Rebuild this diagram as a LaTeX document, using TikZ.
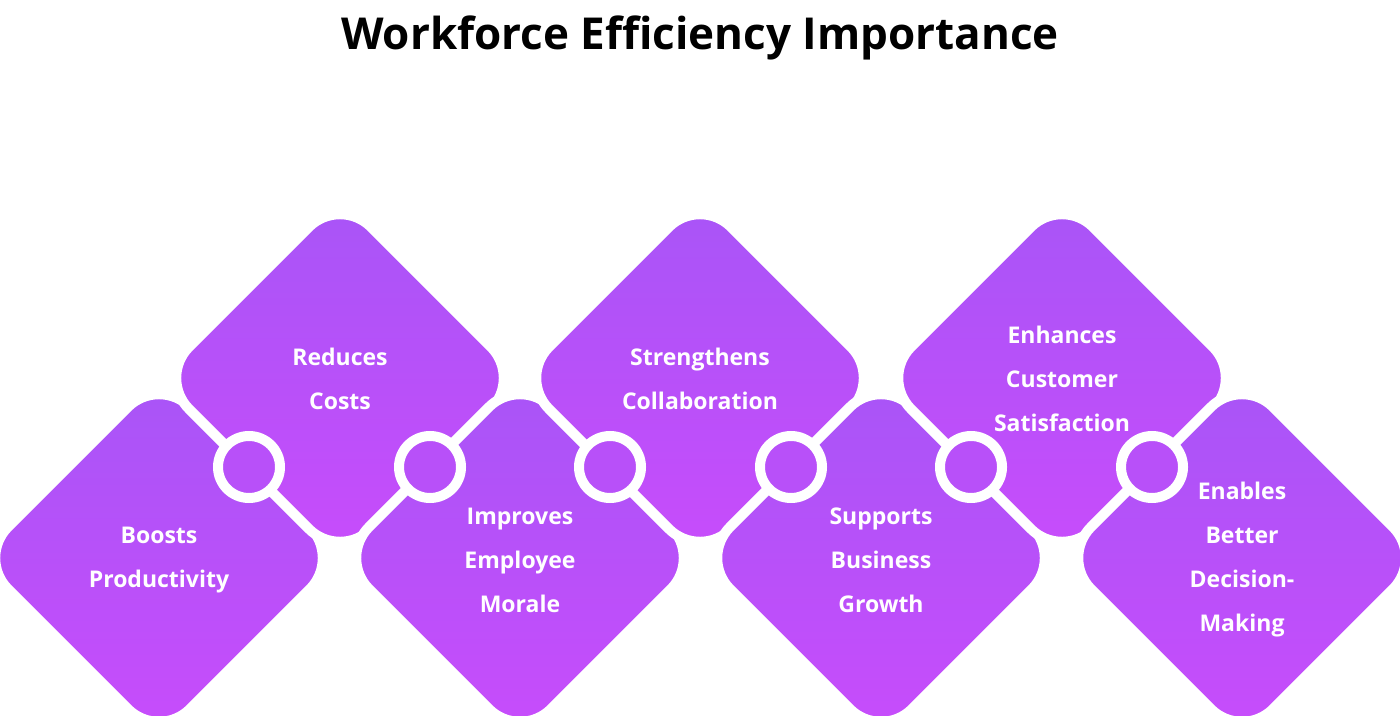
\documentclass[tikz,border=0pt]{standalone}
\usepackage{fontspec}
\setmainfont{Open Sans}
\definecolor{ptop}{RGB}{168,85,247}
\definecolor{pbot}{RGB}{200,76,251}
\definecolor{pmid}{RGB}{184,80,249}
\tikzset{
  tile/.style={top color=ptop,bottom color=pbot},
  gap/.style={draw=white,line width=5pt,rounded corners=22pt},
  ring/.style={draw=white,line width=5pt,fill=pmid},
  label/.style={text=white,font=\bfseries\fontsize{11.5}{22}\selectfont,align=center}
}
\begin{document}
\begin{tikzpicture}[x=0.5pt,y=-0.5pt]
    \useasboundingbox (0,0) rectangle (1400,716);
    % title
    \node[font=\bfseries\fontsize{22}{28}\selectfont] (title) at (700,38) {Workforce Efficiency Importance};
    % tiles
    \foreach \cx/\cy in {159/558,340/378,520/558,700/378,881/558,1062/378,1242/558}{
        \shade[tile,rounded corners=22pt] (\cx-182,\cy) -- (\cx,\cy-182) -- (\cx+182,\cy) -- (\cx,\cy+182) -- cycle;
        \path[gap] (\cx-182,\cy) -- (\cx,\cy-182) -- (\cx+182,\cy) -- (\cx,\cy+182) -- cycle;
    }
    % rings
    \foreach \cx in {249,430,610,791,971,1152}{
        \draw[ring] (\cx,467) circle (15.5pt);
    }
    % labels
    \node[label] (boosts) at (159,560) {Boosts\\Productivity};
    \node[label] (reduces) at (340,379) {Reduces\\Costs};
    \node[label] (improves) at (520,560) {Improves\\Employee\\Morale};
    \node[label] (strengthens) at (700,379) {Strengthens\\Collaboration};
    \node[label] (supports) at (881,560) {Supports\\Business\\Growth};
    \node[label] (enhances) at (1062,379) {Enhances\\Customer\\Satisfaction};
    \node[label] (enables) at (1242,560) {Enables\\Better\\Decision-\\Making};
\end{tikzpicture}
\end{document}
